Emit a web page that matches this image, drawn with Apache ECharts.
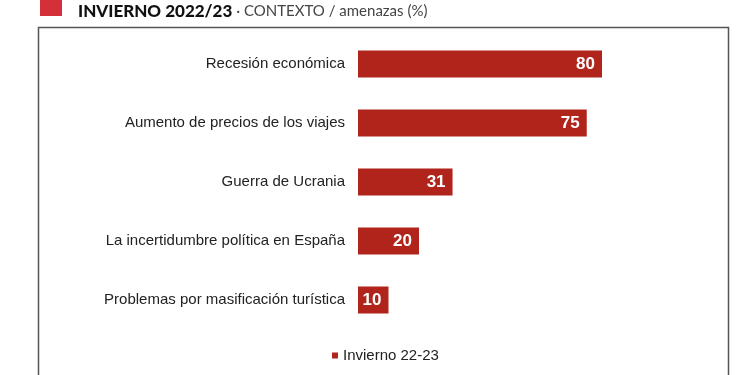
<!DOCTYPE html>
<html>
<head>
<meta charset="utf-8">
<script src="https://cdn.jsdelivr.net/npm/echarts@6/dist/echarts.min.js"></script>
<style>
  html, body { margin: 0; padding: 0; background: #fff; }
  #chart { width: 750px; height: 375px; }
</style>
</head>
<body>
<div id="chart"></div>
<script>
// amenazas (%) - invierno 22-23
const categories = [
  'Recesión económica',
  'Aumento de precios de los viajes',
  'Guerra de Ucrania',
  'La incertidumbre política en España',
  'Problemas por masificación turística'
]
const values = [80, 75, 31, 20, 10]
const seriesName = 'Invierno 22-23'

const chart = echarts.init(document.getElementById('chart'))

const option = {
  animation: false,
  textStyle: { fontFamily: 'Liberation Sans, Arial, sans-serif' },
  title: {
    text: '{b|INVIERNO 2022/23}{n| · CONTEXTO / amenazas (%)}',
    left: 73,
    top: -2,
    textStyle: {
      rich: {
        b: { fontFamily: 'Lato', fontWeight: 900, fontSize: 17, color: '#111' },
        n: { fontFamily: 'Lato', fontWeight: 'normal', fontSize: 15, color: '#444' }
      }
    }
  },
  graphic: [
    {
      type: 'rect',
      shape: { x: 40, y: -2, width: 22, height: 18 },
      style: { fill: '#d4303a' }
    },
    {
      // frame around the chart
      type: 'rect',
      shape: { x: 38.5, y: 27.5, width: 690, height: 360 },
      style: { fill: 'none', stroke: '#555', lineWidth: 1.5 }
    }
  ],
  legend: {
    data: [seriesName],
    left: 327,
    top: 343,
    icon: 'rect',
    itemWidth: 6,
    itemHeight: 6,
    itemGap: 5,
    textStyle: { fontSize: 15, color: '#222' }
  },
  grid: {
    left: 358,
    right: 87,
    top: 34.5,
    bottom: 45.5
  },
  xAxis: {
    type: 'value',
    min: 0,
    max: 100,
    show: false
  },
  yAxis: {
    type: 'category',
    inverse: true,
    data: categories,
    axisLine: { show: false },
    axisTick: { show: false },
    axisLabel: {
      margin: 13,
      fontSize: 15,
      color: '#222'
    }
  },
  series: [
    {
      name: seriesName,
      type: 'bar',
      data: values,
      barWidth: 27,
      itemStyle: { color: '#b0241c' },
      label: {
        show: true,
        position: 'insideRight',
        distance: 7,
        color: '#fff',
        fontWeight: 'bold',
        fontSize: 17
      }
    }
  ]
}

chart.setOption(option)
</script>
</body>
</html>
